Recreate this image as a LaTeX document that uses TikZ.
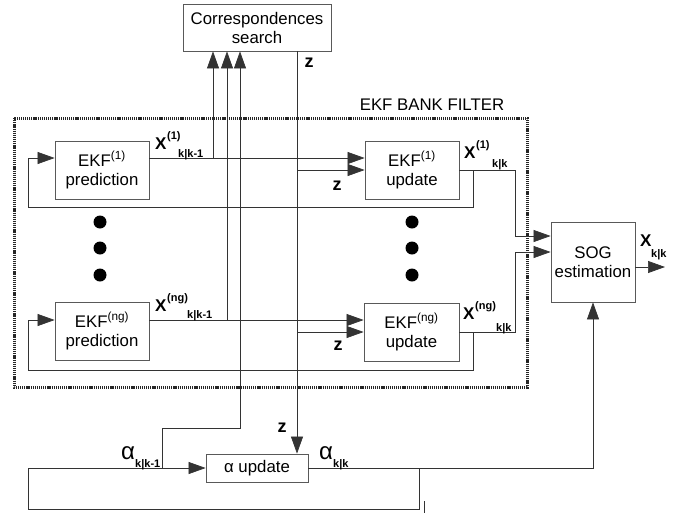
\documentclass[tikz,border=0pt]{standalone}
\usepackage{fontspec}
\setmainfont{Liberation Sans}
\usetikzlibrary{arrows.meta}

\tikzset{
  blk/.style={draw=black!65, line width=0.8pt, minimum width=94pt, minimum height=58pt,
    align=center, inner sep=0pt, font=\fontsize{16.8}{19}\selectfont},
  wire/.style={draw=black!80, line width=0.7pt},
  arr/.style={wire, -{Triangle[length=17pt,width=12pt]}},
  xlbl/.style={anchor=base west, inner sep=0pt, font=\bfseries\fontsize{17}{17}\selectfont},
  suplbl/.style={anchor=base west, inner sep=0pt, font=\bfseries\fontsize{11}{11}\selectfont},
  sublbl/.style={anchor=base west, inner sep=0pt, font=\bfseries\fontsize{11}{11}\selectfont},
  albl/.style={anchor=base west, inner sep=0pt, font=\fontsize{24}{24}\selectfont},
  zlbl/.style={inner sep=0pt, font=\bfseries\fontsize{18}{18}\selectfont},
  bankdot/.style={fill=black}
}

\begin{document}
\begin{tikzpicture}[x=1pt,y=-1pt]
  \useasboundingbox (0,0) rectangle (683,517);

  % bank frame
  \draw[black!85, line width=3pt, dash pattern=on 1.2pt off 0.9pt] (14,118) rectangle (527,387);
  \node[font=\fontsize{16.8}{19}\selectfont] (bank) at (432,105) {EKF BANK FILTER};

  % blocks
  \node[blk, minimum width=148pt, minimum height=47pt] (corr) at (257,27.5) {Correspondences\\search};
  \node[blk] (pred1) at (102,170) {EKF\textsuperscript{(1)}\\prediction};
  \node[blk] (upd1) at (412,170) {EKF\textsuperscript{(1)}\\update};
  \node[blk] (predng) at (102,331) {EKF\textsuperscript{(ng)}\\prediction};
  \node[blk, minimum width=95pt] (updng) at (411.5,332) {EKF\textsuperscript{(ng)}\\update};
  \node[blk, minimum width=84pt, minimum height=80pt] (sog) at (593,262) {SOG\\estimation};
  \node[blk, minimum width=102pt, minimum height=28pt] (alpha) at (257,468) {α update};

  % dots between the filters
  \foreach \y in {222,248,275}{
    \fill[bankdot] (100,\y) circle (6.5pt);
    \fill[bankdot] (412,\y) circle (6.5pt);
  }

  % junctions
  \coordinate (j1) at (213,158);
  \coordinate (j2) at (227,320);
  \coordinate (j3) at (162,468);
  \coordinate (ja) at (240,428);
  \coordinate (zx) at (297,0);
  \coordinate (b1) at (473,170);
  \coordinate (l1) at (28,207);
  \coordinate (bng) at (473,332);
  \coordinate (lng) at (28,370);
  \coordinate (s1) at (515,236);
  \coordinate (s2) at (515,252);
  \coordinate (out) at (665,267);
  \coordinate (a1) at (419,468);
  \coordinate (a2) at (28,509);

  % to correspondences search
  \draw[arr] (j1) -- (j1 |- corr.south);
  \draw[arr] (j2) -- (j2 |- corr.south);
  \draw[arr] (j3) |- (ja) -- (ja |- corr.south);

  % measurements z
  \draw[arr] (corr.south -| zx) -- (alpha.north -| zx);
  \draw[arr] (zx |- upd1.west) -- (upd1.west);
  \draw[arr] (zx |- updng.west) -- (updng.west);

  % prediction -> update
  \draw[arr] (pred1.east |- j1) -- (upd1.west |- j1);
  \draw[arr] (predng.east |- j2) -- (updng.west |- j2);

  % feedback loops
  \draw[arr] (b1) |- (l1) |- (pred1.west |- j1);
  \draw[arr] (bng) |- (lng) |- (predng.west |- j2);

  % update -> SOG
  \draw[arr] (upd1.east) -| (s1) -- (sog.west |- s1);
  \draw[arr] (updng.east) -| (s2) -- (sog.west |- s2);
  \draw[arr] (sog.east |- out) -- (out);

  % alpha loop
  \draw[arr] (a1) |- (a2) |- (alpha.west);
  \draw[arr] (alpha.east) -| (sog.south);
  \draw[wire] (424,501) -- (424,513);

  % labels
  \node[zlbl] (z0) at (309,63) {z};
  \node[zlbl] (z1) at (337,186) {z};
  \node[zlbl] (z2) at (338,346) {z};
  \node[zlbl] (z3) at (282,428) {z};

  \node[xlbl] (x1p) at (155,149) {X};
  \node[suplbl] (x1ps) at (167,139) {(1)};
  \node[sublbl] (x1pk) at (178,157) {k|k-1};
  \node[xlbl] (xnp) at (155,311) {X};
  \node[suplbl] (xnps) at (167,301) {(ng)};
  \node[sublbl] (xnpk) at (187,318) {k|k-1};
  \node[xlbl] (x1u) at (464,158) {X};
  \node[suplbl] (x1us) at (476,148) {(1)};
  \node[sublbl] (x1uk) at (492,167) {k|k};
  \node[xlbl] (xnu) at (463,319) {X};
  \node[suplbl] (xnus) at (475,309) {(ng)};
  \node[sublbl] (xnuk) at (496,331) {k|k};
  \node[xlbl] (xo) at (640,246) {X};
  \node[sublbl] (xok) at (651,257) {k|k};

  \node[albl] (ap) at (121,459) {α};
  \node[sublbl] (apk) at (135,467) {k|k-1};
  \node[albl] (au) at (319,459) {α};
  \node[sublbl] (auk) at (333,467) {k|k};
\end{tikzpicture}
\end{document}
